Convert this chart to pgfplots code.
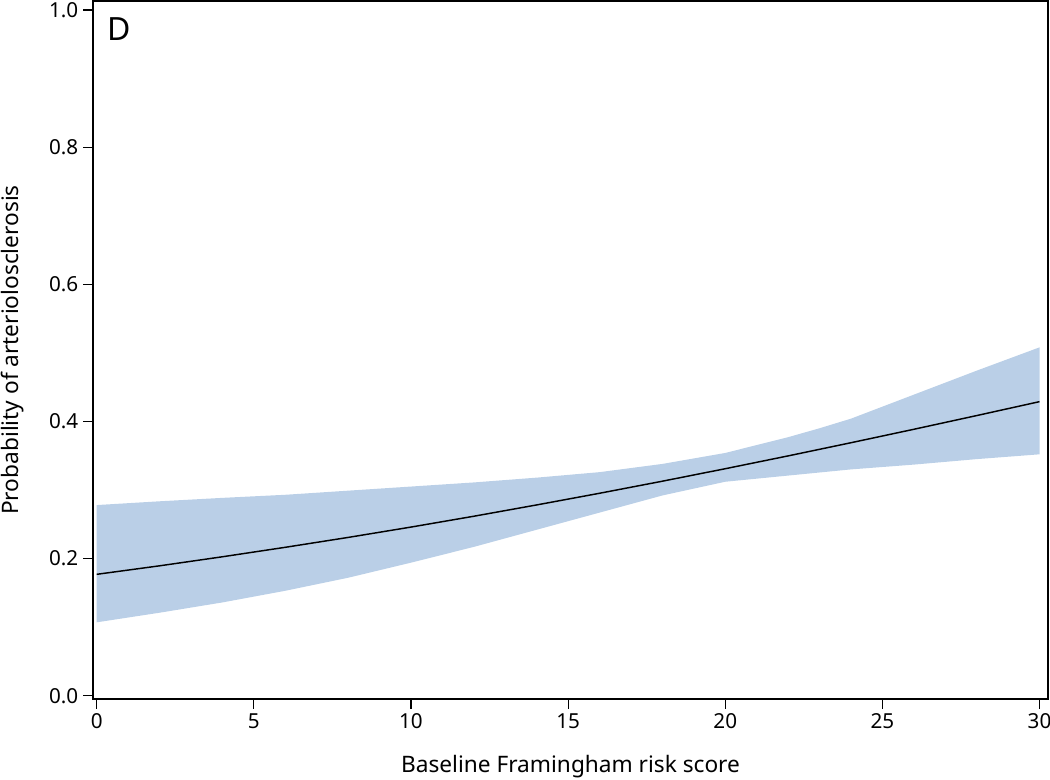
\documentclass[border=0pt]{standalone}
\usepackage{pgfplots}
\pgfplotsset{compat=1.18}
\usepgfplotslibrary{fillbetween}
\usepackage{fontspec}
\setmainfont{Noto Sans}
\definecolor{bandblue}{RGB}{186,207,231}
\begin{document}
\begin{tikzpicture}
\begin{axis}[
  at={(69.75pt,60.75pt)}, anchor=south west,
  scale only axis, width=716.25pt, height=523.5pt,
  xmin=-0.118, xmax=30.27, ymin=-0.0048, ymax=1.0131,
  xtick={0,5,...,30}, ytick={0,0.2,0.4,0.6,0.8,1.0},
  xtick pos=bottom, ytick pos=left,
  tick align=outside, major tick length=7.5pt,
  every tick/.style={black, line width=0.9pt},
  axis line style={line width=0.9pt},
  yticklabel style={/pgf/number format/fixed, /pgf/number format/precision=1, /pgf/number format/fixed zerofill},
  /pgf/number format/assume math mode=true,
  tick label style={font=\fontsize{15.5}{18}\selectfont},
  label style={font=\fontsize{17}{20}\selectfont},
  xlabel={Baseline Framingham risk score},
  ylabel={Probability of arteriolosclerosis},
  xlabel style={at={(axis description cs:0.5,-0.105)}, anchor=base},
  ylabel style={at={(axis description cs:-0.0775,0.5)}, anchor=base},
]
\addplot[name path=upper, draw=none, forget plot] coordinates {
(0,0.278) (2,0.2835) (4,0.2885) (6,0.293) (8,0.299) (10,0.305) (12,0.311) (14,0.318) (16,0.326) (18,0.338) (20,0.354) (22,0.377) (23,0.390) (24,0.404) (26,0.439) (28,0.474) (30,0.508)};
\addplot[name path=lower, draw=none, forget plot] coordinates {
(0,0.107) (2,0.121) (4,0.136) (6,0.153) (8,0.172) (10,0.194) (12,0.217) (14,0.242) (16,0.267) (18,0.292) (20,0.312) (22,0.321) (24,0.330) (26,0.337) (28,0.345) (30,0.352)};
\addplot[fill=bandblue, draw=none] fill between[of=upper and lower];
\addplot[black, line width=1.1pt] coordinates {
(0,0.1770) (2,0.1894) (4,0.2026) (6,0.2164) (8,0.2308) (10,0.2459) (12,0.2617) (14,0.2782) (16,0.2952) (18,0.3128) (20,0.3310) (22,0.3497) (24,0.3689) (26,0.3885) (28,0.4085) (30,0.4288)};
\node[anchor=base west, inner sep=0pt, font=\fontsize{24}{28}\selectfont] at (axis description cs:0.0147,0.944) {D};
\end{axis}
\pgfresetboundingbox
\useasboundingbox (0,0) rectangle (787.5pt,585pt);
\end{tikzpicture}
\end{document}
